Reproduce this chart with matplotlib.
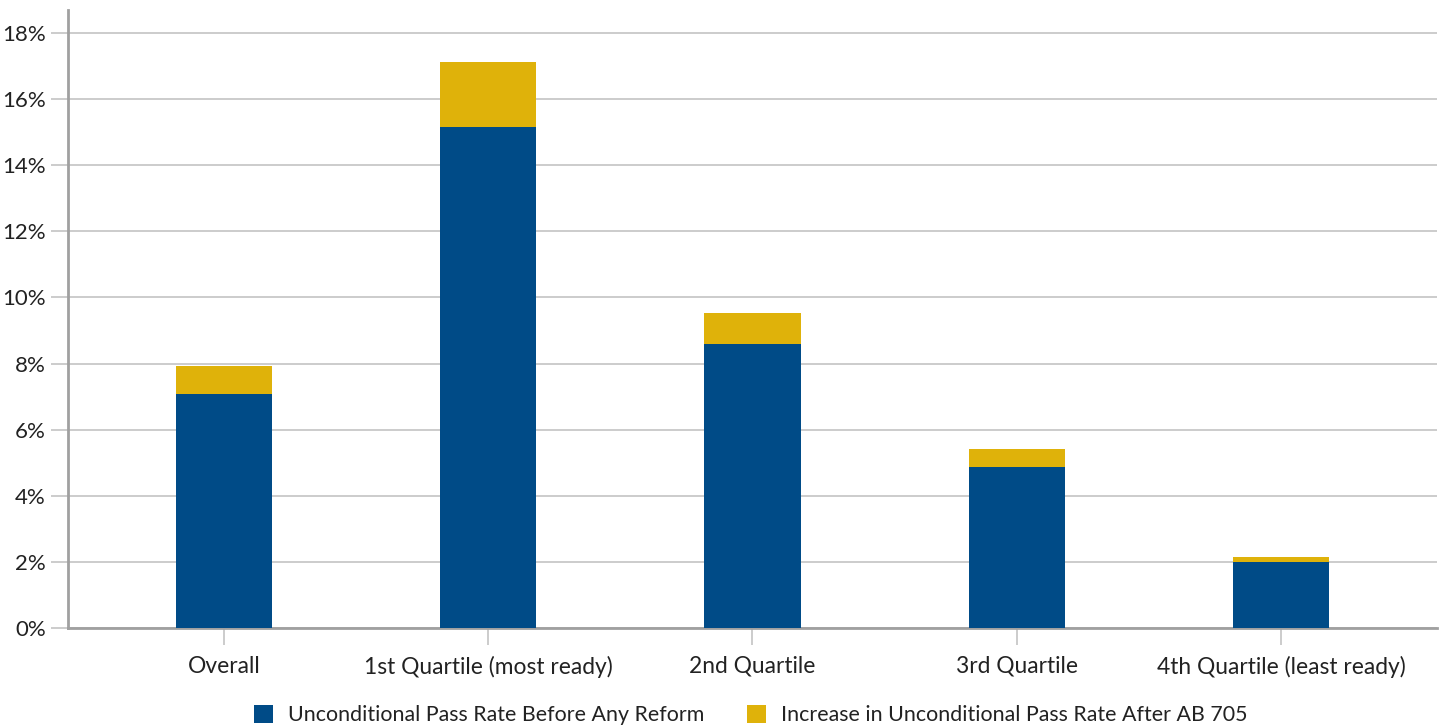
import matplotlib
matplotlib.use('Agg')
import matplotlib.pyplot as plt
import numpy as np

categories = ['Overall', '1st Quartile (most ready)', '2nd Quartile',
              '3rd Quartile', '4th Quartile (least ready)']
before_reform = [7.08, 15.15, 8.60, 4.87, 2.00]
increase_ab705 = [0.85, 1.97, 0.93, 0.54, 0.15]
yticks = [0, 2, 4, 6, 8, 10, 12, 14, 16, 18]

BLUE = '#004b87'
GOLD = '#dfb20a'

plt.rcParams['font.family'] = ['Lato', 'DejaVu Sans']

fig = plt.figure(figsize=(14.44, 7.26), dpi=100)
ax = fig.add_axes([0.0471, 0.135, 0.948, 0.851])

x = np.arange(len(categories))
ax.bar(x, before_reform, width=0.364, color=BLUE, zorder=3,
       label='Unconditional Pass Rate Before Any Reform')
ax.bar(x, increase_ab705, width=0.364, bottom=before_reform, color=GOLD,
       zorder=3, label='Increase in Unconditional Pass Rate After AB 705')

ax.set_xlim(-0.59, 4.59)
ax.set_ylim(0, 18.69)
ax.set_yticks(yticks)
ax.set_yticklabels([f'{t}%' for t in yticks], fontsize=16, color='#222222')
ax.set_xticks(x)
ax.set_xticklabels(categories, fontsize=16.4, color='#222222')

ax.grid(axis='y', color='#c4c4c4', linewidth=1.2, zorder=0)
for side in ['top', 'right']:
    ax.spines[side].set_visible(False)
for side in ['left', 'bottom']:
    ax.spines[side].set_color('#a0a0a0')
    ax.spines[side].set_linewidth(2)
ax.tick_params(axis='y', length=12, width=1.2, color='#c4c4c4', pad=4)
ax.tick_params(axis='x', length=12, width=1.2, color='#c4c4c4', pad=8)

fig.legend(loc='center', bbox_to_anchor=(0.52, 0.015), ncol=2, frameon=False,
           fontsize=15.4, handlelength=0.9, handleheight=0.9, columnspacing=2.0,
           handletextpad=0.7, labelcolor='#222222')

fig.savefig('out.png', dpi=100)
